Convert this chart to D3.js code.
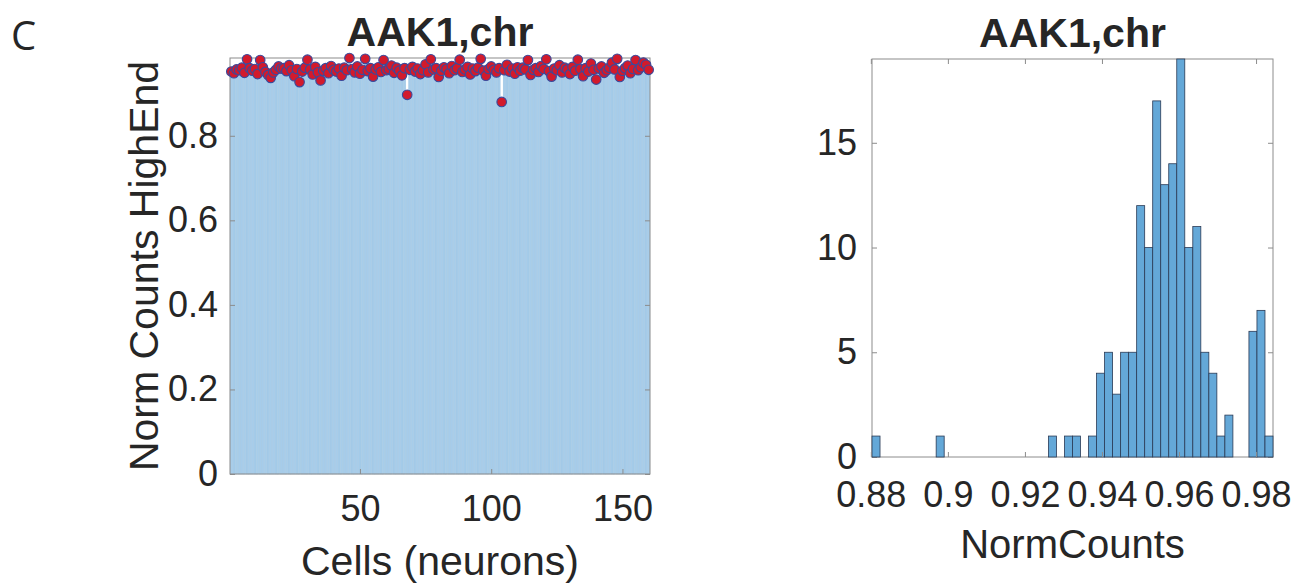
<!DOCTYPE html>
<html>
<head>
<meta charset="utf-8">
<script src="https://cdn.jsdelivr.net/npm/d3@7"></script>
<style>
body { margin: 0; background: #fff; }
text { font-family: "Liberation Sans", Arial, sans-serif; fill: #262626; }
</style>
</head>
<body>
<script>
// per-cell normalised counts (cells 1..160)
var cellValues = [
  0.952, 0.948, 0.957, 0.955, 0.961, 0.949, 0.981, 0.960, 0.954, 0.958,
  0.946, 0.979, 0.962, 0.951, 0.944, 0.937, 0.950, 0.956, 0.964, 0.959,
  0.960, 0.953, 0.967, 0.955, 0.941, 0.958, 0.927, 0.952, 0.961, 0.980,
  0.957, 0.945, 0.963, 0.950, 0.931, 0.954, 0.960, 0.948, 0.965, 0.956,
  0.952, 0.959, 0.942, 0.961, 0.955, 0.984, 0.958, 0.950, 0.964, 0.947,
  0.956, 0.982, 0.953, 0.960, 0.940, 0.957, 0.962, 0.951, 0.979, 0.955,
  0.958, 0.966, 0.949, 0.961, 0.954, 0.943, 0.960, 0.897, 0.956, 0.963,
  0.952, 0.959, 0.946, 0.955, 0.969, 0.950, 0.981, 0.957, 0.960, 0.939,
  0.954, 0.962, 0.958, 0.948, 0.965, 0.955, 0.960, 0.980, 0.951, 0.957,
  0.963, 0.945, 0.959, 0.953, 0.961, 0.982, 0.954, 0.942, 0.958, 0.964,
  0.956, 0.950, 0.960, 0.880, 0.955, 0.968, 0.952, 0.959, 0.947, 0.962,
  0.954, 0.961, 0.957, 0.979, 0.944, 0.956, 0.960, 0.951, 0.965, 0.958,
  0.981, 0.953, 0.940, 0.959, 0.955, 0.967, 0.950, 0.961, 0.957, 0.946,
  0.963, 0.954, 0.980, 0.958, 0.941, 0.960, 0.952, 0.971, 0.956, 0.933,
  0.959, 0.964, 0.949, 0.955, 0.961, 0.973, 0.957, 0.982, 0.939, 0.954,
  0.960, 0.966, 0.948, 0.958, 0.979, 0.955, 0.962, 0.973, 0.968, 0.956
];

// histogram of the same values: 50 bins between min and max
var binLo = 0.8803, binHi = 0.9844;
var histCounts = [
  1, 0, 0, 0, 0, 0, 0, 0, 1, 0,
  0, 0, 0, 0, 0, 0, 0, 0, 0, 0,
  0, 0, 1, 0, 1, 1, 0, 1, 4, 5,
  3, 5, 5, 12, 10, 17, 13, 14, 19, 10,
  11, 5, 4, 1, 2, 0, 0, 6, 7, 1
];

var leftYTicks = [0, 0.2, 0.4, 0.6, 0.8];
var leftXTicks = [50, 100, 150];
var rightXTicks = [0.88, 0.9, 0.92, 0.94, 0.96, 0.98];
var rightYTicks = [0, 5, 10, 15];

var W = 1294, H = 587;
var tickFont = "36px", labelFont = "41px", titleFont = "41px";

var svg = d3.select("body").append("svg")
  .attr("width", W)
  .attr("height", H);

var fmt = function(d) { return String(+d.toFixed(2)); };

function styleAxis(g, withText) {
  g.select(".domain").remove();
  g.selectAll("line").attr("stroke", "#8c8c8c");
  if (withText) g.selectAll("text").style("font-size", tickFont).attr("fill", "#262626");
}

// panel letter
svg.append("text")
  .attr("x", 11).attr("y", 50)
  .style("font-family", "'Open Sans', sans-serif")
  .style("font-size", "40px")
  .text("C");

// ---------- left panel: bars + dots ----------
var L = {left: 230, right: 650, top: 58, bottom: 474};

var xL = d3.scaleLinear().domain([0.5, cellValues.length + 0.5]).range([L.left, L.right]);
var yL = d3.scaleLinear().domain([0, d3.max(cellValues)]).range([L.bottom, L.top]);
var bw = xL(1) - xL(0);

var gL = svg.append("g");

gL.selectAll(".bar")
  .data(cellValues)
  .enter().append("rect")
  .attr("class", "bar")
  .attr("x", function(d, i) { return xL(i + 1) - bw * 0.4; })
  .attr("width", bw * 0.8 + 0.01)
  .attr("y", function(d) { return yL(d); })
  .attr("height", function(d) { return yL(0) - yL(d); })
  .attr("fill", "#a7cdea")
  .attr("stroke", "#9cc3e2")
  .attr("stroke-width", 0.6);

// box
gL.append("rect")
  .attr("x", L.left).attr("y", L.top)
  .attr("width", L.right - L.left).attr("height", L.bottom - L.top)
  .attr("fill", "none").attr("stroke", "#8c8c8c").attr("stroke-width", 1);

gL.append("g")
  .attr("transform", "translate(" + L.left + ",0)")
  .call(d3.axisLeft(yL).tickValues(leftYTicks).tickSize(-5).tickPadding(12).tickFormat(fmt))
  .call(styleAxis, true);
gL.append("g")
  .attr("transform", "translate(" + L.right + ",0)")
  .call(d3.axisRight(yL).tickValues(leftYTicks).tickSize(-5).tickFormat(""))
  .call(styleAxis, false);

gL.append("g")
  .attr("transform", "translate(0," + L.bottom + ")")
  .call(d3.axisBottom(xL).tickValues(leftXTicks).tickSize(-5).tickPadding(21))
  .call(styleAxis, true);

gL.selectAll(".dot")
  .data(cellValues)
  .enter().append("circle")
  .attr("class", "dot")
  .attr("cx", function(d, i) { return xL(i + 1); })
  .attr("cy", function(d) { return yL(d); })
  .attr("r", 4.8)
  .attr("fill", "#d21a2c")
  .attr("stroke", "#3a4a9c")
  .attr("stroke-width", 1.1);

svg.append("text")
  .attr("x", (L.left + L.right) / 2).attr("y", 46)
  .attr("text-anchor", "middle")
  .style("font-size", titleFont).style("font-weight", "bold").attr("fill", "#000")
  .text("AAK1,chr");

svg.append("text")
  .attr("transform", "translate(158," + (L.top + L.bottom) / 2 + ") rotate(-90)")
  .attr("text-anchor", "middle")
  .style("font-size", labelFont)
  .text("Norm Counts HighEnd");

svg.append("text")
  .attr("x", (L.left + L.right) / 2).attr("y", 575)
  .attr("text-anchor", "middle")
  .style("font-size", labelFont)
  .text("Cells (neurons)");

// ---------- right panel: histogram ----------
var R = {left: 872, right: 1273, top: 59, bottom: 457};

var xR = d3.scaleLinear().domain([binLo, binHi]).range([R.left, R.right]);
var yR = d3.scaleLinear().domain([0, 19]).range([R.bottom, R.top]);
var binW = (binHi - binLo) / histCounts.length;

var gR = svg.append("g");

gR.append("rect")
  .attr("x", R.left).attr("y", R.top)
  .attr("width", R.right - R.left).attr("height", R.bottom - R.top)
  .attr("fill", "none").attr("stroke", "#8c8c8c").attr("stroke-width", 1);

gR.append("g")
  .attr("transform", "translate(" + R.left + ",0)")
  .call(d3.axisLeft(yR).tickValues(rightYTicks).tickSize(-5).tickPadding(15))
  .call(styleAxis, true);
gR.append("g")
  .attr("transform", "translate(" + R.right + ",0)")
  .call(d3.axisRight(yR).tickValues(rightYTicks).tickSize(-5).tickFormat(""))
  .call(styleAxis, false);
gR.append("g")
  .attr("transform", "translate(0," + R.top + ")")
  .call(d3.axisTop(xR).tickValues(rightXTicks).tickSize(-5).tickFormat(""))
  .call(styleAxis, false);

gR.selectAll(".hbar")
  .data(histCounts)
  .enter().append("rect")
  .attr("class", "hbar")
  .attr("x", function(d, i) { return xR(binLo + i * binW); })
  .attr("width", xR(binLo + binW) - xR(binLo))
  .attr("y", function(d) { return yR(d); })
  .attr("height", function(d) { return yR(0) - yR(d); })
  .attr("fill", "#64a8d8")
  .attr("stroke", "#2a3a55")
  .attr("stroke-width", 0.8);

gR.append("g")
  .attr("transform", "translate(0," + R.bottom + ")")
  .call(d3.axisBottom(xR).tickValues(rightXTicks).tickSize(-5).tickPadding(24).tickFormat(fmt))
  .call(styleAxis, true);

svg.append("text")
  .attr("x", (R.left + R.right) / 2).attr("y", 47)
  .attr("text-anchor", "middle")
  .style("font-size", titleFont).style("font-weight", "bold").attr("fill", "#000")
  .text("AAK1,chr");

svg.append("text")
  .attr("x", (R.left + R.right) / 2).attr("y", 558)
  .attr("text-anchor", "middle")
  .style("font-size", "40px")
  .text("NormCounts");
</script>
</body>
</html>
